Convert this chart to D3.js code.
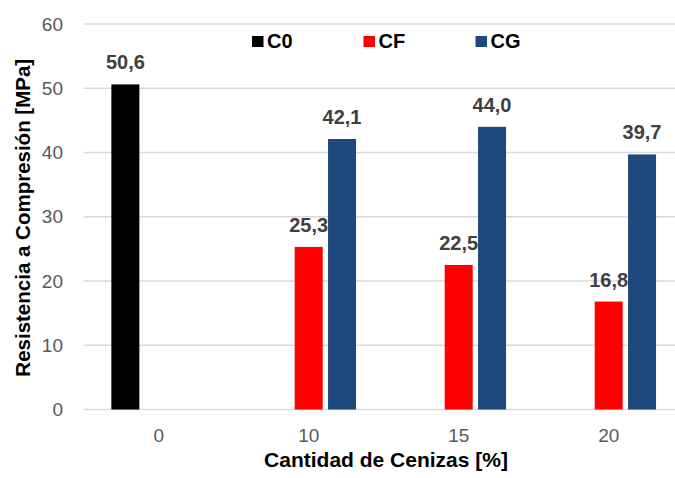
<!DOCTYPE html>
<html>
<head>
<meta charset="utf-8">
<script src="https://cdn.jsdelivr.net/npm/d3@7"></script>
<style>
  html, body { margin: 0; padding: 0; background: #ffffff; }
  svg { display: block; font-family: "Liberation Sans", Arial, sans-serif; }
</style>
</head>
<body>
<svg id="chart" width="675" height="478"></svg>
<script>
// Ash content categories (x axis)
const categories = ["0", "10", "15", "20"];
// Series names and colours
const seriesNames = ["C0", "CF", "CG"];
const seriesColors = ["#000000", "#ff0000", "#1f497d"];
// Compressive strength values [MPa] per series (null = no bar)
const c0Values = [50.6, null, null, null];
const cfValues = [null, 25.3, 22.5, 16.8];
const cgValues = [null, 42.1, 44.0, 39.7];
// Y axis ticks
const yTicks = [0, 10, 20, 30, 40, 50, 60];

const seriesValues = [c0Values, cfValues, cgValues];

const svg = d3.select("#chart");
const plot = { left: 83.7, right: 683.7, top: 24, bottom: 409.5 };

const x = d3.scaleBand().domain(categories).range([plot.left, plot.right]).padding(0);
const groupWidth = 100;
const xs = d3.scaleBand().domain(seriesNames).range([0, groupWidth])
  .paddingInner(0.16).paddingOuter(0.08);
const y = d3.scaleLinear().domain([0, 60]).range([plot.bottom, plot.top]);

// Horizontal gridlines (the zero line doubles as the category axis)
svg.append("g").selectAll("line").data(yTicks).join("line")
  .attr("x1", plot.left).attr("x2", plot.right)
  .attr("y1", d => y(d)).attr("y2", d => y(d))
  .attr("stroke", "#d9d9d9").attr("stroke-width", 1.3);

// Y tick labels
svg.append("g").selectAll("text").data(yTicks).join("text")
  .attr("x", 63).attr("y", d => y(d)).attr("dy", "0.35em")
  .attr("text-anchor", "end")
  .attr("font-size", 19).attr("fill", "#595959")
  .text(d => d);

// X tick labels
svg.append("g").selectAll("text").data(categories).join("text")
  .attr("x", d => x(d) + x.bandwidth() / 2).attr("y", 442)
  .attr("text-anchor", "middle")
  .attr("font-size", 19).attr("fill", "#595959")
  .text(d => d);

const fmt = v => v.toFixed(1).replace(".", ",");

// Bars and value labels, series by series
seriesNames.forEach((name, si) => {
  const rows = categories.map((c, i) => ({ c, v: seriesValues[si][i] }))
    .filter(d => d.v !== null);
  const g = svg.append("g");
  const bx = d => x(d.c) + x.bandwidth() / 2 - groupWidth / 2 + xs(name);
  g.selectAll("rect").data(rows).join("rect")
    .attr("x", bx)
    .attr("y", d => y(d.v))
    .attr("width", xs.bandwidth())
    .attr("height", d => y(0) - y(d.v))
    .attr("fill", seriesColors[si]);
  g.selectAll("text").data(rows).join("text")
    .attr("x", d => bx(d) + xs.bandwidth() / 2)
    .attr("y", d => y(d.v) - 15)
    .attr("text-anchor", "middle")
    .attr("font-size", 20).attr("font-weight", "bold").attr("fill", "#404040")
    .text(d => fmt(d.v));
});

// Legend
const legendX = [252, 363.5, 475.5];
const legend = svg.append("g").selectAll("g").data(seriesNames).join("g")
  .attr("transform", (d, i) => `translate(${legendX[i]},0)`);
legend.append("rect")
  .attr("x", 0).attr("y", 36).attr("width", 11.5).attr("height", 11)
  .attr("fill", (d, i) => seriesColors[i]);
legend.append("text")
  .attr("x", 15).attr("y", 47.5)
  .attr("font-size", 20).attr("font-weight", "bold").attr("fill", "#000000")
  .text(d => d);

// Axis titles
svg.append("text")
  .attr("x", 386).attr("y", 467)
  .attr("text-anchor", "middle")
  .attr("font-size", 21).attr("font-weight", "bold").attr("fill", "#000000")
  .text("Cantidad de Cenizas [%]");

svg.append("text")
  .attr("transform", `translate(30,${(plot.top + plot.bottom) / 2 + 1}) rotate(-90)`)
  .attr("text-anchor", "middle")
  .attr("font-size", 20.5).attr("font-weight", "bold").attr("fill", "#000000")
  .text("Resistencia a Compresión [MPa]");
</script>
</body>
</html>
